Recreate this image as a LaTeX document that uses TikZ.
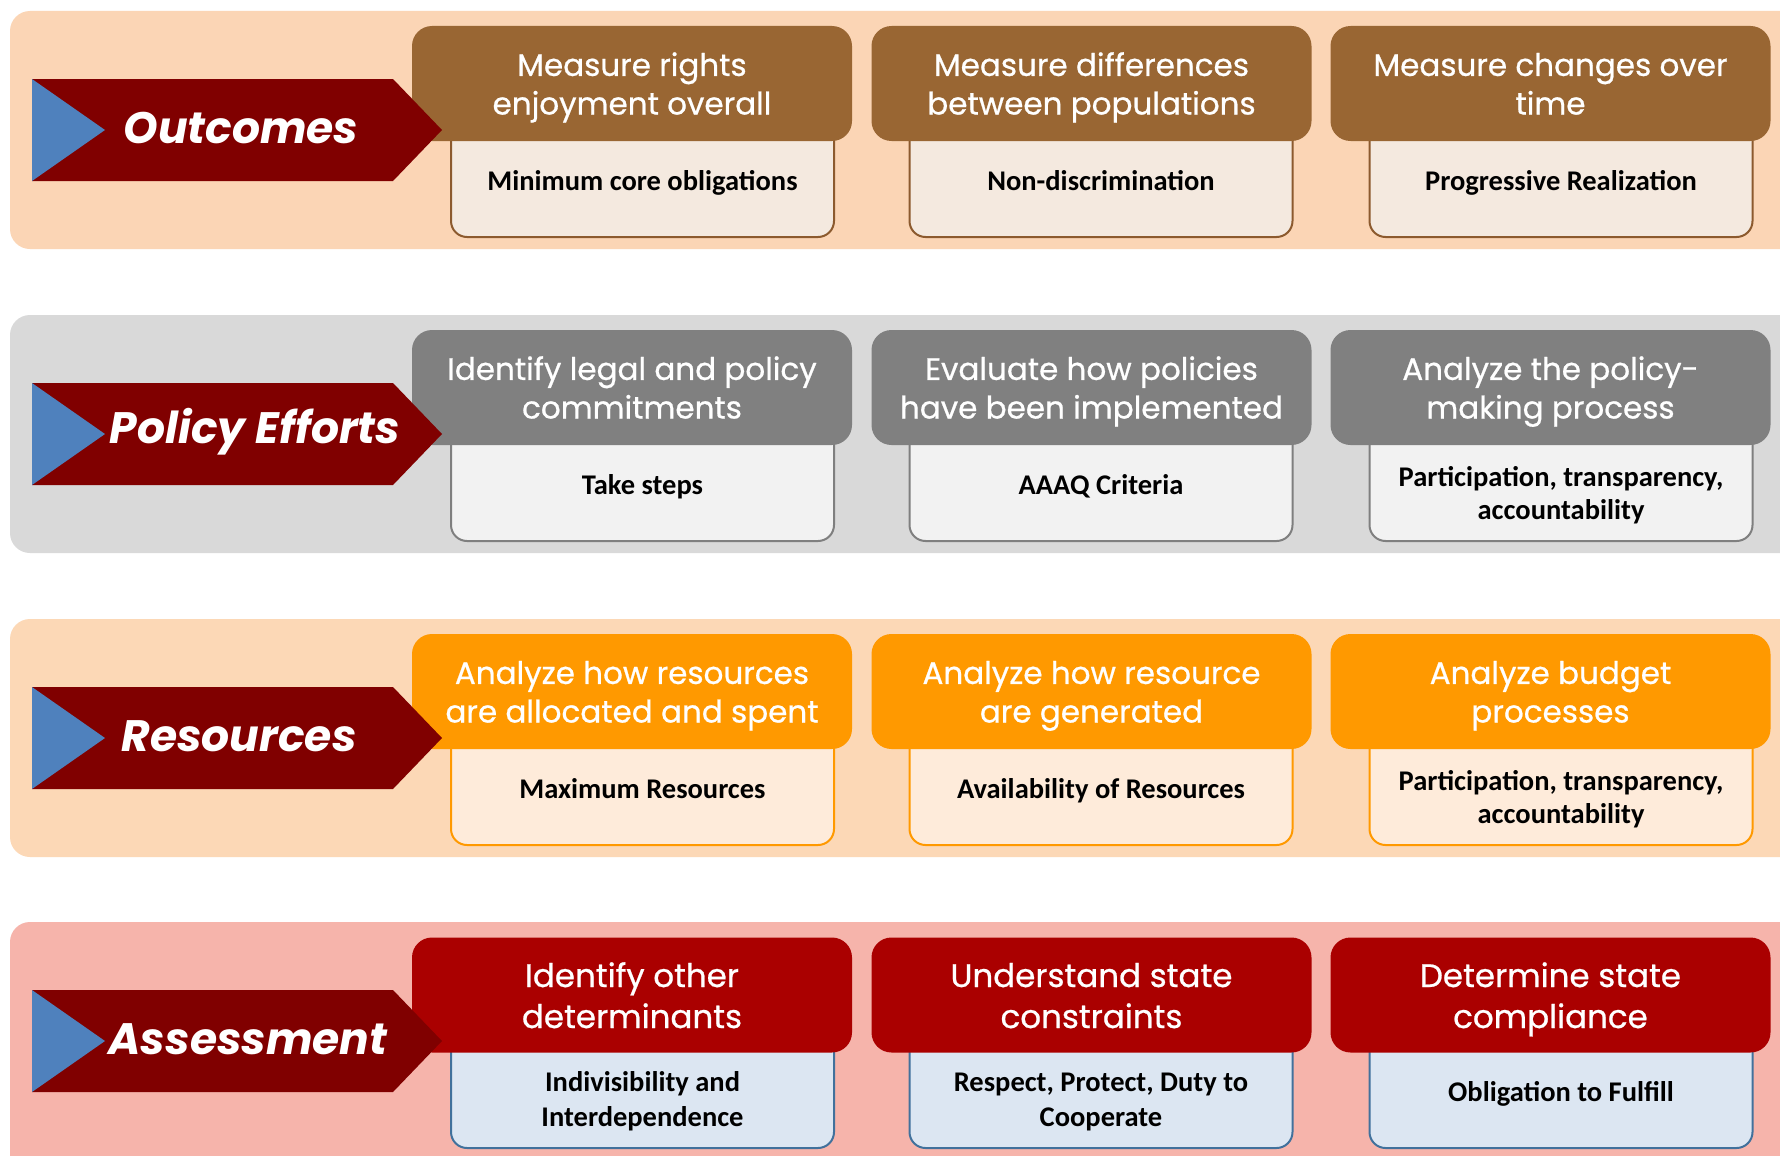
\documentclass[tikz,border=0pt]{standalone}
\usepackage{fontspec}
\setmainfont{Carlito}
\newfontfamily\hdfont{Poppins}[FakeBold=0.7]
\newfontfamily\tagfont{Poppins}
\definecolor{arrowred}{HTML}{800000}
\definecolor{arrowblue}{HTML}{4F81BD}
% outcomes
\definecolor{bandO}{HTML}{FBD5B5}
\definecolor{headO}{HTML}{996633}
\definecolor{fillO}{HTML}{F4E9DF}
\definecolor{lineO}{HTML}{8C5A2E}
% policy efforts
\definecolor{bandP}{HTML}{D9D9D9}
\definecolor{headP}{HTML}{808080}
\definecolor{fillP}{HTML}{F2F2F2}
\definecolor{lineP}{HTML}{7F7F7F}
% resources
\definecolor{bandR}{HTML}{FCD8B6}
\definecolor{headR}{HTML}{FF9900}
\definecolor{fillR}{HTML}{FEEBDA}
\definecolor{lineR}{HTML}{FF9900}
% assessment
\definecolor{bandA}{HTML}{F6B4AB}
\definecolor{headA}{HTML}{AA0000}
\definecolor{fillA}{HTML}{DCE6F2}
\definecolor{lineA}{HTML}{41719C}
\tikzset{
  band/.style={fill=#1, rounded corners=20pt},
  % multi-line node text sits on its last baseline, so the height
  % below covers the first line plus one line step
  headbox/.style={fill=#1, rounded corners=20pt, minimum width=440pt,
    minimum height=115pt, inner sep=0pt, text=white, align=center,
    text height=69pt, text depth=7pt,
    font=\hdfont\fontsize{31}{38.6}\selectfont},
  bighead/.style={text height=71pt, text depth=5pt,
    font=\hdfont\fontsize{32.5}{41}\selectfont},
  lowbox/.style={draw=#1, line width=2pt, rounded corners=16pt,
    minimum width=383pt, minimum height=126pt, inner sep=0pt},
  lowtext/.style={text=black, align=center, inner sep=0pt,
    text height=20pt, text depth=1pt,
    font=\bfseries\fontsize{28.5}{33}\selectfont},
  twoline/.style={text height=53pt},
  twolinewide/.style={text height=55pt,
    font=\bfseries\fontsize{28.5}{35}\selectfont},
  tagtext/.style={text=white, inner sep=0pt,
    font=\tagfont\bfseries\itshape\fontsize{44}{50}\selectfont},
}
% the chevron that names a category, with its label
\newcommand{\chevron}[3]{%
  \fill[arrowred] (32,68) -- (393,68) -- (442,119) -- (393,170) -- (32,170) -- cycle;
  \fill[arrowblue] (32,68) -- (105,119) -- (32,170) -- cycle;
  \node[tagtext] (#1) at (#2,117) {#3};
}
\begin{document}
\begin{tikzpicture}[x=1pt,y=-1pt]
\useasboundingbox (0,0) rectangle (1780,1156);
\clip (0,0) rectangle (1780,1156);
\fill[white] (0,0) rectangle (1780,1156);

% ---------------- Outcomes ----------------
\begin{scope}[shift={(0,11)}]
  \fill[band=bandO] (10,0) rectangle (1810,238);
  \node[lowbox=lineO, fill=fillO] (o-l1) at (642.5,163) {};
  \node[lowbox=lineO, fill=fillO] (o-l2) at (1101,163) {};
  \node[lowbox=lineO, fill=fillO] (o-l3) at (1561,163) {};
  \node[headbox=headO] (o-h1) at (632,72.5) {Measure rights\\enjoyment overall};
  \node[headbox=headO] (o-h2) at (1091.5,72.5) {Measure differences\\between populations};
  \node[headbox=headO] (o-h3) at (1550.5,72.5) {Measure changes over\\time};
  \node[lowtext] (o-t1) at (642.5,170) {Minimum core obligations};
  \node[lowtext] (o-t2) at (1101,170) {Non-discrimination};
  \node[lowtext] (o-t3) at (1561,170) {Progressive Realization};
  \chevron{o-tag}{241}{Outcomes}
\end{scope}

% ---------------- Policy Efforts ----------------
\begin{scope}[shift={(0,315)}]
  \fill[band=bandP] (10,0) rectangle (1810,238);
  \node[lowbox=lineP, fill=fillP] (p-l1) at (642.5,163) {};
  \node[lowbox=lineP, fill=fillP] (p-l2) at (1101,163) {};
  \node[lowbox=lineP, fill=fillP] (p-l3) at (1561,163) {};
  \node[headbox=headP] (p-h1) at (632,72.5) {Identify legal and policy\\commitments};
  \node[headbox=headP] (p-h2) at (1091.5,72.5) {Evaluate how policies\\have been implemented};
  \node[headbox=headP] (p-h3) at (1550.5,72.5) {Analyze the policy-\\making process};
  \node[lowtext] (p-t1) at (642.5,170) {Take steps};
  \node[lowtext] (p-t2) at (1101,170) {AAAQ Criteria};
  \node[lowtext, twoline] (p-t3) at (1561,178) {Participation, transparency,\\accountability};
  \chevron{p-tag}{255}{Policy Efforts}
\end{scope}

% ---------------- Resources ----------------
\begin{scope}[shift={(0,619)}]
  \fill[band=bandR] (10,0) rectangle (1810,238);
  \node[lowbox=lineR, fill=fillR] (r-l1) at (642.5,163) {};
  \node[lowbox=lineR, fill=fillR] (r-l2) at (1101,163) {};
  \node[lowbox=lineR, fill=fillR] (r-l3) at (1561,163) {};
  \node[headbox=headR] (r-h1) at (632,72.5) {Analyze how resources\\are allocated and spent};
  \node[headbox=headR] (r-h2) at (1091.5,72.5) {Analyze how resource\\are generated};
  \node[headbox=headR] (r-h3) at (1550.5,72.5) {Analyze budget\\processes};
  \node[lowtext] (r-t1) at (642.5,170) {Maximum Resources};
  \node[lowtext] (r-t2) at (1101,170) {Availability of Resources};
  \node[lowtext, twoline] (r-t3) at (1561,178) {Participation, transparency,\\accountability};
  \chevron{r-tag}{239}{Resources}
\end{scope}

% ---------------- Assessment ----------------
\begin{scope}[shift={(0,922)}]
  \fill[band=bandA] (10,0) rectangle (1810,260);
  \node[lowbox=lineA, fill=fillA] (a-l1) at (642.5,163) {};
  \node[lowbox=lineA, fill=fillA] (a-l2) at (1101,163) {};
  \node[lowbox=lineA, fill=fillA] (a-l3) at (1561,163) {};
  \node[headbox=headA, bighead] (a-h1) at (632,73) {Identify other\\determinants};
  \node[headbox=headA, bighead] (a-h2) at (1091.5,73) {Understand state\\constraints};
  \node[headbox=headA, bighead] (a-h3) at (1550.5,73) {Determine state\\compliance};
  \node[lowtext, twolinewide] (a-t1) at (642.5,177.5) {Indivisibility and\\Interdependence};
  \node[lowtext, twolinewide] (a-t2) at (1101,177.5) {Respect, Protect, Duty to\\Cooperate};
  \node[lowtext] (a-t3) at (1561,170) {Obligation to Fulfill};
  \chevron{a-tag}{248}{Assessment}
\end{scope}
\end{tikzpicture}
\end{document}
